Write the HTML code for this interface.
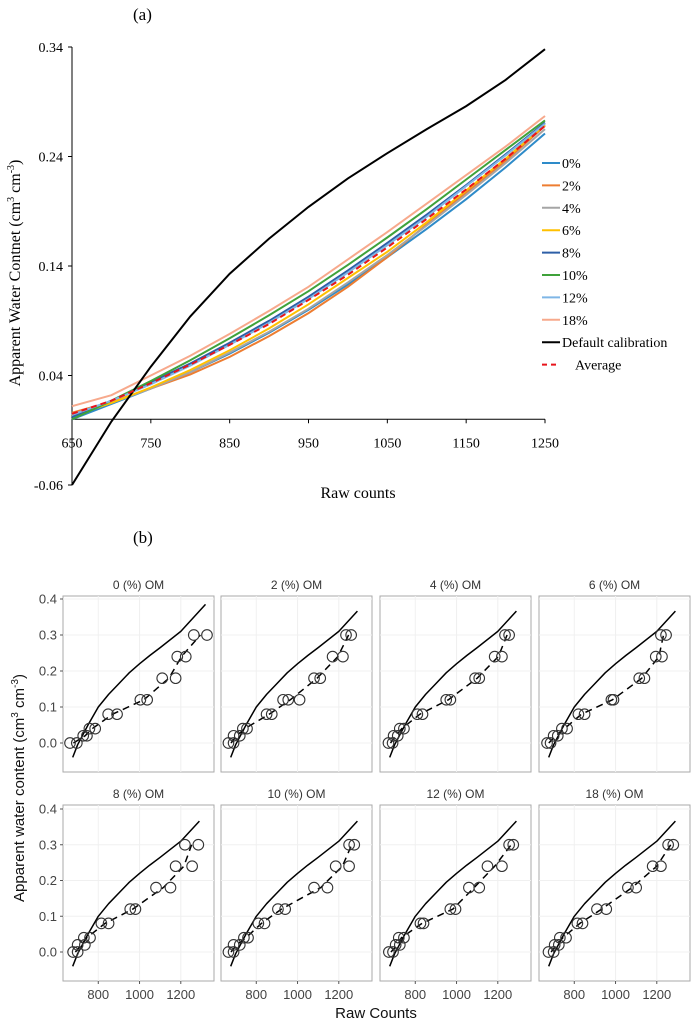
<!DOCTYPE html>
<html><head><meta charset="utf-8"><style>
body{margin:0;background:#fff}
svg{display:block}
.serif{font-family:"Liberation Serif",serif}
.sans{font-family:"Liberation Sans",sans-serif}
</style></head><body>
<svg id="fig" width="695" height="1024" viewBox="0 0 695 1024" xmlns="http://www.w3.org/2000/svg">
<text class="serif" x="133" y="20" font-size="17">(a)</text>
<text class="serif" x="133" y="543" font-size="17">(b)</text>
<g id="topchart"></g>
<g id="bottom"></g>
</svg>
<script>
const NS='http://www.w3.org/2000/svg';
// ---- Top chart data ----
const topX=[650,700,750,800,850,900,950,1000,1050,1100,1150,1200,1250];
const topYTicks=[-0.06,0.04,0.14,0.24,0.34];
const topXTicks=[650,750,850,950,1050,1150,1250];
const s0=[0.000,0.014,0.028,0.043,0.060,0.079,0.100,0.123,0.148,0.174,0.201,0.230,0.261];
const s2=[0.006,0.016,0.028,0.041,0.057,0.076,0.097,0.121,0.148,0.178,0.207,0.236,0.268];
const s4=[0.004,0.015,0.028,0.043,0.061,0.080,0.101,0.125,0.150,0.177,0.205,0.234,0.265];
const s6=[0.003,0.015,0.029,0.045,0.063,0.083,0.105,0.129,0.153,0.180,0.209,0.238,0.269];
const s8=[0.002,0.017,0.034,0.051,0.070,0.090,0.112,0.136,0.161,0.187,0.214,0.242,0.271];
const s10=[0.000,0.017,0.035,0.054,0.074,0.095,0.117,0.141,0.166,0.192,0.219,0.246,0.273];
const s12=[0.004,0.017,0.032,0.049,0.068,0.088,0.110,0.134,0.159,0.185,0.213,0.241,0.270];
const s18=[0.012,0.022,0.040,0.058,0.078,0.099,0.121,0.146,0.171,0.197,0.223,0.249,0.277];
const sDefault=[-0.060,-0.002,0.048,0.094,0.133,0.165,0.194,0.220,0.243,0.265,0.286,0.310,0.338];
const sAverage=[0.005,0.017,0.033,0.050,0.068,0.087,0.109,0.132,0.157,0.183,0.210,0.238,0.268];
const seriesNames=['0%','2%','4%','6%','8%','10%','12%','18%','Default calibration','Average'];
// ---- Bottom chart data ----
const panelTitles=['0 (%) OM','2 (%) OM','4 (%) OM','6 (%) OM','8 (%) OM','10 (%) OM','12 (%) OM','18 (%) OM'];
const levels=[0,0.02,0.04,0.08,0.12,0.18,0.24,0.30];
const pts0=[[663,696],[727,745],[757,785],[848,891],[1004,1037],[1110,1175],[1183,1224],[1263,1327]];
const pts1=[[665,690],[690,720],[735,755],[850,875],[930,955,1010],[1080,1110],[1170,1220],[1235,1260]];
const pts2=[[670,690],[695,715],[725,745],[810,835],[950,970],[1090,1110],[1185,1220],[1235,1255]];
const pts3=[[668,685],[700,720],[740,765],[820,850],[980,990],[1115,1140],[1195,1225],[1220,1245]];
const pts4=[[678,700],[700,735],[730,760],[815,850],[955,980],[1080,1150],[1175,1255],[1220,1285]];
const pts5=[[665,690],[690,720],[740,760],[810,840],[905,940],[1080,1145],[1185,1250],[1250,1275]];
const pts6=[[672,692],[705,725],[720,745],[825,840],[970,995],[1060,1110],[1150,1220],[1255,1275]];
const pts7=[[675,700],[705,725],[730,760],[815,840],[910,955],[1060,1100],[1180,1220],[1255,1280]];
const defX=[676,700,750,800,850,900,950,1000,1050,1100,1200,1320];
const defY=[-0.04,-0.005,0.05,0.10,0.135,0.165,0.195,0.22,0.243,0.265,0.31,0.385];
const panelXMax=[1320,1290,1290,1290,1290,1290,1290,1290];
const bYTicks=[0.0,0.1,0.2,0.3,0.4];
const bXTicks=[800,1000,1200];

function el(tag,attrs,parent){const e=document.createElementNS(NS,tag);for(const k in attrs)e.setAttribute(k,attrs[k]);parent.appendChild(e);return e;}

// ---- Top chart ----
const topG=document.getElementById('topchart');
const X=v=>72+(v-650)/600*473;
const Y=v=>47+(0.34-v)/0.4*438;
const ax=el('line',{x1:X(650),y1:Y(0.34),x2:X(650),y2:Y(-0.06),stroke:'#000','stroke-width':1},topG);


const xa=el('line',{x1:X(650),y1:Y(0),x2:X(1250),y2:Y(0),stroke:'#000','stroke-width':1},topG);


topYTicks.forEach(t=>{
  el('line',{x1:X(650)-4,x2:X(650),y1:Y(t),y2:Y(t),stroke:'#000'},topG);
  const tx=el('text',{x:X(650)-9,y:Y(t)+5,'text-anchor':'end','font-size':14,class:'serif'},topG);
  tx.textContent=t.toFixed(2);
  
  
});
topXTicks.forEach(t=>{
  el('line',{x1:X(t),x2:X(t),y1:Y(0),y2:Y(0)+4,stroke:'#000'},topG);
  const tx=el('text',{x:X(t),y:Y(0)+28,'text-anchor':'middle','font-size':14,class:'serif'},topG);
  tx.textContent=t;
  
  
});
const yt=el('text',{x:0,y:0,'text-anchor':'middle','font-size':16,class:'serif',transform:'translate(20,273) rotate(-90)'},topG);
yt.innerHTML='Apparent Water Contnet (cm<tspan font-size="10" dy="-6">3</tspan><tspan dy="6"> cm</tspan><tspan font-size="10" dy="-6">-3</tspan><tspan dy="6">)</tspan>';


const xt=el('text',{x:358,y:498,'text-anchor':'middle','font-size':16,class:'serif'},topG);
xt.textContent='Raw counts';


const topSeries=[s0,s2,s4,s6,s8,s10,s12,s18,sDefault,sAverage];
const colors=['#2e8bc9','#ed7d31','#a5a5a5','#ffc000','#2e5fa7','#3fa23a','#7fb6e6','#f7a98c','#000','#e8141b'];
topSeries.forEach((s,i)=>{
  const d=s.map((v,j)=>(j?'L':'M')+X(topX[j]).toFixed(1)+','+Y(v).toFixed(1)).join(' ');
  const p=el('path',{d:d,fill:'none',stroke:colors[i],'stroke-width':2,'stroke-dasharray':i==9?'6,4':'none'},topG);
  
  
});
const lg=el('g',{},topG);


seriesNames.forEach((n,i)=>{
  const y=163+i*22.4;
  el('line',{x1:542,x2:560,y1:y,y2:y,stroke:colors[i],'stroke-width':2,'stroke-dasharray':i==9?'5,4':'none'},lg);
  const t=el('text',{x:i==9?575:562,y:y+5,'font-size':14,class:'serif'},lg);
  t.textContent=n;
  
  
});

// ---- Bottom chart ----
const bot=document.getElementById('bottom');
const lefts=[63,221,380,539], tops=[596,805], PW=151, PH=176;
const allPts=[pts0,pts1,pts2,pts3,pts4,pts5,pts6,pts7];
allPts.forEach((pts,pi)=>{
  const c=pi%4, r=Math.floor(pi/4);
  const L=lefts[c], T=tops[r];
  const y0=r?952:743, y04=r?809:599;
  const BX=v=>L+(v-629)/732*PW;
  const BY=v=>y0+(y04-y0)*v/0.4;
  const g=el('g',{},bot);
  
  
  el('rect',{x:L,y:T,width:PW,height:PH,fill:'#fff',stroke:'#aaa','stroke-width':1},g);
  bYTicks.forEach(t=>el('line',{x1:L,x2:L+PW,y1:BY(t),y2:BY(t),stroke:'#f0f0f0'},g));
  bXTicks.forEach(t=>el('line',{x1:BX(t),x2:BX(t),y1:T,y2:T+PH,stroke:'#f0f0f0'},g));
  const tt=el('text',{x:L+PW/2,y:T-7,'text-anchor':'middle','font-size':12,fill:'#333',class:'sans'},g);
  tt.textContent=panelTitles[pi];
  
  
  if(c==0) bYTicks.forEach(t=>{
    el('line',{x1:L-3,x2:L,y1:BY(t),y2:BY(t),stroke:'#555'},g);
    const tx=el('text',{x:L-6,y:BY(t)+4.5,'text-anchor':'end','font-size':13,fill:'#444',class:'sans'},g);
    tx.textContent=t.toFixed(1);
    
    
  });
  if(r==1) bXTicks.forEach(t=>{
    el('line',{x1:BX(t),x2:BX(t),y1:T+PH,y2:T+PH+3,stroke:'#555'},g);
    const tx=el('text',{x:BX(t),y:T+PH+18,'text-anchor':'middle','font-size':13,fill:'#444',class:'sans'},g);
    tx.textContent=t;
    
    
  });
  const xm=panelXMax[pi]; let d='';
  defX.forEach((x,j)=>{
    let yy=defY[j], xx=x;
    if(x>xm){const x0=defX[j-1],yv=defY[j-1];yy=yv+(defY[j]-yv)*(xm-x0)/(x-x0);xx=xm;}
    if(x<=xm||defX[j-1]<xm) d+=(d?'L':'M')+BX(xx).toFixed(1)+','+BY(yy).toFixed(1);
  });
  const dl=el('path',{d:d,fill:'none',stroke:'#000','stroke-width':1.5,'stroke-linejoin':'round'},g);
  
  
  const fd=pts.map((a,j)=>{const m=a.reduce((s,v)=>s+v,0)/a.length;return (j?'L':'M')+BX(m).toFixed(1)+','+BY(levels[j]).toFixed(1);}).join(' ');
  const fl=el('path',{d:fd,fill:'none',stroke:'#000','stroke-width':1.5,'stroke-dasharray':'7,5'},g);
  
  
  pts.forEach((a,j)=>a.forEach(x=>{
    const ci=el('circle',{cx:BX(x),cy:BY(levels[j]),r:5.3,fill:'none',stroke:'#333','stroke-width':1.1},g);
    
    
  }));
});
const byt=el('text',{x:0,y:0,'text-anchor':'middle','font-size':15,fill:'#111',class:'sans',transform:'translate(24,788) rotate(-90)'},bot);
byt.innerHTML='Apparent water content (cm<tspan font-size="10" dy="-6">3</tspan><tspan dy="6"> cm</tspan><tspan font-size="10" dy="-6">-3</tspan><tspan dy="6">)</tspan>';


const bxt=el('text',{x:376,y:1018,'text-anchor':'middle','font-size':15,fill:'#111',class:'sans'},bot);
bxt.textContent='Raw Counts';


</script>
</body></html>
